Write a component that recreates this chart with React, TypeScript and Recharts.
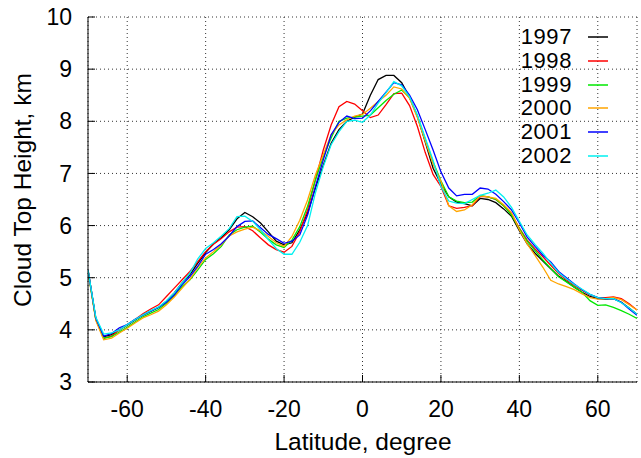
import { LineChart, Line, XAxis, YAxis, CartesianGrid, Label } from 'recharts';

const LAT = [
  -70, -68, -66, -64, -62, -60, -58, -56, -54, -52,
  -50, -48, -46, -44, -42, -40, -38, -36, -34, -32,
  -30, -28, -26, -24, -22, -20, -18, -16, -14, -12,
  -10, -8, -6, -4, -2, 0, 2, 4, 6, 8,
  10, 12, 14, 16, 18, 20, 22, 24, 26, 28,
  30, 32, 34, 36, 38, 40, 42, 44, 46, 48,
  50, 52, 54, 56, 58, 60, 62, 64, 66, 68,
  70,
];

const Y1997 = [
  5.15, 4.2, 3.87, 3.91, 4.0, 4.09, 4.19, 4.29, 4.36, 4.43,
  4.55, 4.71, 4.9, 5.06, 5.28, 5.48, 5.65, 5.77, 5.92, 6.13,
  6.25, 6.17, 6.05, 5.88, 5.7, 5.63, 5.67, 5.92, 6.24, 6.72,
  7.16, 7.58, 7.84, 8.0, 8.08, 8.14, 8.5, 8.8, 8.88, 8.88,
  8.74, 8.46, 8.09, 7.6, 7.1, 6.8, 6.55, 6.45, 6.42, 6.38,
  6.52, 6.5, 6.44, 6.32, 6.18, 5.9, 5.65, 5.47, 5.32, 5.17,
  5.03, 4.93, 4.82, 4.72, 4.64, 4.6, 4.59, 4.6, 4.53, 4.42,
  4.3,
];

const Y1998 = [
  5.15, 4.2, 3.84, 3.88, 4.0, 4.1, 4.2, 4.31, 4.4, 4.48,
  4.64, 4.8, 4.96, 5.12, 5.31, 5.5, 5.64, 5.75, 5.88, 5.97,
  5.98, 5.9, 5.76, 5.63, 5.54, 5.49, 5.6, 5.88, 6.3, 6.88,
  7.45, 7.93, 8.28, 8.38, 8.33, 8.2, 8.07, 8.12, 8.32, 8.53,
  8.54, 8.3, 7.9, 7.4, 6.98, 6.75, 6.38, 6.33, 6.35, 6.38,
  6.56, 6.55, 6.5, 6.38, 6.22, 5.95, 5.72, 5.55, 5.4, 5.24,
  5.08, 4.96, 4.85, 4.76, 4.67, 4.62, 4.62, 4.63, 4.6, 4.5,
  4.38,
];

const Y1999 = [
  5.12, 4.2, 3.84, 3.87, 3.96, 4.05, 4.15, 4.25, 4.32, 4.39,
  4.51, 4.66, 4.83, 4.96, 5.15, 5.35, 5.46, 5.6, 5.82, 5.92,
  5.97, 5.99, 5.87, 5.74, 5.63, 5.58, 5.72, 5.98, 6.37, 6.88,
  7.32, 7.68, 8.0, 8.06, 8.08, 8.1, 8.12, 8.26, 8.4, 8.52,
  8.6, 8.45, 8.1, 7.65, 7.22, 6.86, 6.55, 6.47, 6.44, 6.45,
  6.58, 6.55, 6.5, 6.38, 6.2, 5.94, 5.7, 5.52, 5.34, 5.18,
  5.02, 4.92, 4.82, 4.72, 4.56, 4.47, 4.48, 4.43, 4.37, 4.3,
  4.22,
];

const Y2000 = [
  5.12, 4.18, 3.81, 3.84, 3.94, 4.03, 4.13, 4.23, 4.29, 4.36,
  4.48, 4.63, 4.8, 4.97, 5.2, 5.38, 5.5, 5.63, 5.8, 5.88,
  5.93, 5.97, 5.9, 5.79, 5.67, 5.6, 5.79, 6.1, 6.49, 6.97,
  7.36, 7.74, 7.93, 8.03, 8.1, 8.13, 8.25, 8.38, 8.5, 8.66,
  8.62, 8.44, 8.07, 7.62, 7.18, 6.85, 6.38, 6.27, 6.3, 6.4,
  6.57, 6.55, 6.52, 6.4, 6.25, 5.92, 5.65, 5.43, 5.2, 4.95,
  4.88, 4.83, 4.77, 4.69, 4.62, 4.59, 4.6, 4.62, 4.58, 4.48,
  4.38,
];

const Y2001 = [
  5.15, 4.22, 3.88, 3.93, 4.04, 4.1, 4.2, 4.28, 4.36, 4.43,
  4.53, 4.67, 4.87, 5.02, 5.22, 5.45, 5.54, 5.65, 5.8, 5.98,
  6.08, 6.09, 5.96, 5.83, 5.75, 5.66, 5.7, 5.82, 6.2, 6.75,
  7.26, 7.74, 7.98, 8.1, 8.05, 8.06, 8.2, 8.38, 8.56, 8.74,
  8.7, 8.5, 8.22, 7.84, 7.45, 7.03, 6.72, 6.57, 6.6, 6.6,
  6.72, 6.7, 6.6, 6.46, 6.3, 6.05, 5.78, 5.6, 5.43, 5.3,
  5.12, 5.0, 4.88, 4.77, 4.68, 4.62, 4.6, 4.6, 4.53, 4.4,
  4.28,
];

const Y2002 = [
  5.15, 4.24, 3.92, 3.94, 4.0, 4.1, 4.2, 4.29, 4.37, 4.44,
  4.56, 4.71, 4.9, 5.09, 5.36, 5.56, 5.67, 5.8, 5.94, 6.17,
  6.18, 6.08, 5.92, 5.73, 5.56, 5.45, 5.45, 5.68, 6.0, 6.63,
  7.13, 7.55, 7.8, 8.0, 8.02, 7.98, 8.12, 8.35, 8.55, 8.76,
  8.68, 8.47, 8.12, 7.68, 7.25, 6.75, 6.47, 6.43, 6.42, 6.5,
  6.58, 6.62, 6.68, 6.55, 6.35, 6.08, 5.82, 5.64, 5.47, 5.28,
  5.1, 4.98, 4.87, 4.78, 4.68, 4.62, 4.6, 4.6, 4.52, 4.42,
  4.3,
];

const SERIES = [
  { key: '1997', values: Y1997, color: '#000000' },
  { key: '1998', values: Y1998, color: '#ff0000' },
  { key: '1999', values: Y1999, color: '#00e800' },
  { key: '2000', values: Y2000, color: '#ffa500' },
  { key: '2001', values: Y2001, color: '#0000ff' },
  { key: '2002', values: Y2002, color: '#00f0f0' },
];

const X_TICKS = [-60, -40, -20, 0, 20, 40, 60];
const Y_TICKS = [3, 4, 5, 6, 7, 8, 9, 10];

const data = LAT.map((lat, i) => {
  const row: Record<string, number> = { lat };
  SERIES.forEach((s) => (row[s.key] = s.values[i]));
  return row;
});

const FONT = '"Liberation Sans", Arial, Helvetica, sans-serif';
const tickStyle = { fontSize: 23, fill: '#000', fontFamily: FONT };

export default function App() {
  return (
    <div style={{ position: 'absolute', left: 0, top: 0, width: 641, height: 458, background: '#fff', fontFamily: FONT }}>
      <LineChart width={641} height={458} data={data} margin={{ top: 17, right: 4, left: 0, bottom: 36 }}>
        <CartesianGrid stroke="#333" strokeDasharray="1 3" />
        <XAxis
          dataKey="lat"
          type="number"
          domain={[-70, 70]}
          ticks={X_TICKS}
          allowDataOverflow
          height={40}
          tickSize={-7}
          tickMargin={26}
          stroke="#000"
          tick={tickStyle}
        >
          <Label
            content={() => (
              <text x={363} y={450} textAnchor="middle" fontSize={24.5} fontFamily={FONT} fill="#000">
                Latitude, degree
              </text>
            )}
          />
        </XAxis>
        <XAxis xAxisId="top" orientation="top" dataKey="lat" type="number" domain={[-70, 70]} ticks={X_TICKS} height={0} tickSize={-7} tick={false} stroke="#000" />
        <YAxis
          type="number"
          domain={[3, 10]}
          ticks={Y_TICKS}
          width={88}
          tickSize={-7}
          tickMargin={23}
          stroke="#000"
          tick={tickStyle}
        >
          <Label
            content={() => (
              <text x={31} y={190} transform="rotate(-90 31 190)" textAnchor="middle" fontSize={24.5} fontFamily={FONT} fill="#000">
                Cloud Top Height, km
              </text>
            )}
          />
        </YAxis>
        <YAxis yAxisId="right" orientation="right" type="number" domain={[3, 10]} ticks={Y_TICKS} width={0} tickSize={-7} tick={false} stroke="#000" />
        {SERIES.map((s) => (
          <Line
            key={s.key}
            dataKey={s.key}
            stroke={s.color}
            strokeWidth={1.3}
            dot={false}
            isAnimationActive={false}
          />
        ))}
      </LineChart>
      <div style={{ position: 'absolute', left: 492, top: 25, width: 130 }}>
        {SERIES.map((s) => (
          <div key={s.key} style={{ display: 'flex', alignItems: 'center', height: 23.8 }}>
            <span style={{ width: 80, textAlign: 'right', fontSize: 22, letterSpacing: 0.6, lineHeight: '23.8px', color: '#000' }}>{s.key}</span>
            <svg width={36} height={24} style={{ display: 'block' }}>
              <line x1={16} x2={36} y1={12} y2={12} stroke={s.color} strokeWidth={1.5} />
            </svg>
          </div>
        ))}
      </div>
    </div>
  );
}
